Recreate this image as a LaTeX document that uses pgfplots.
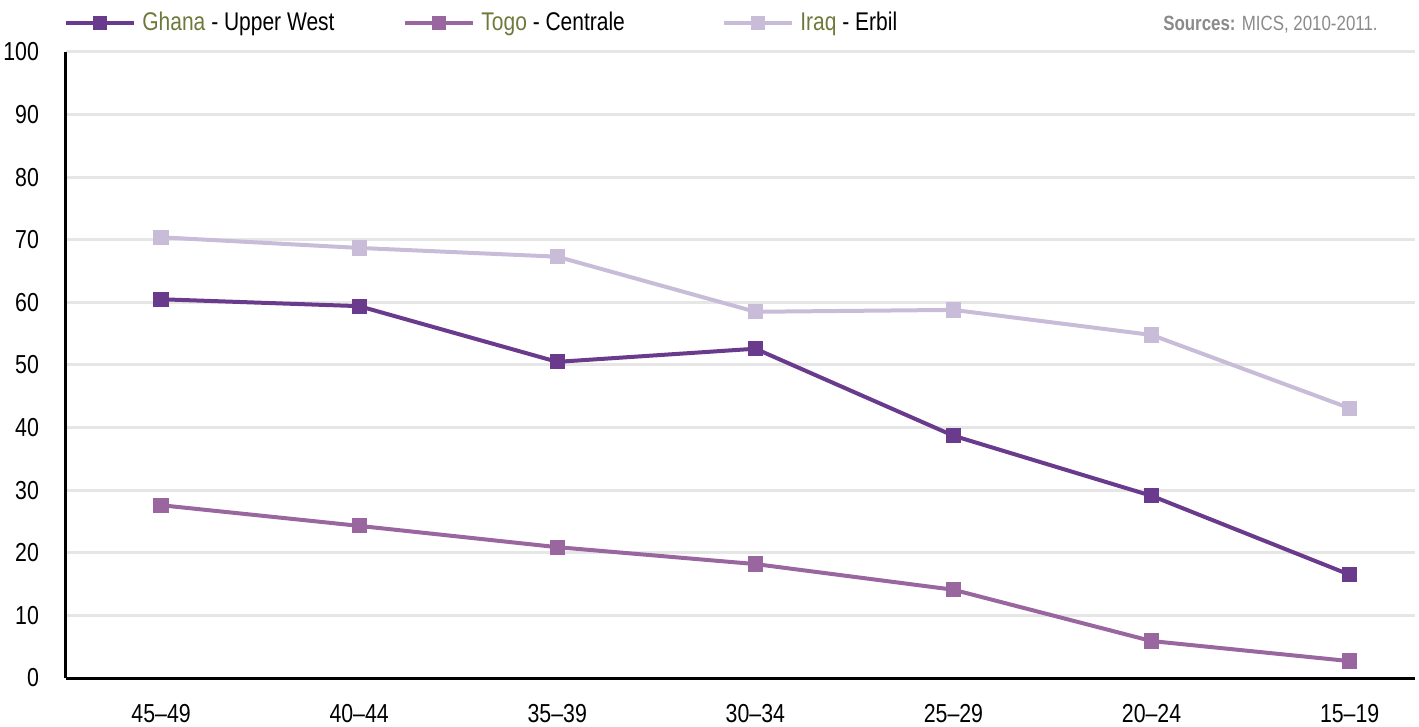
\documentclass[border=0pt]{standalone}
\usepackage{pgfplots}
\pgfplotsset{compat=1.18}
\usepackage{fontspec}
\setmainfont{Liberation Sans}[FakeStretch=0.82]
\definecolor{ghana}{HTML}{6A3A8C}
\definecolor{togo}{HTML}{9A66A0}
\definecolor{iraq}{HTML}{C9BCD9}
\definecolor{cname}{HTML}{6E7A3C}
\definecolor{gridc}{HTML}{E6E6E6}
\definecolor{srcc}{HTML}{8A8A8A}
\pgfplotstableread{
x ghana togo iraq
0 60.5 27.6 70.4
1 59.4 24.3 68.7
2 50.5 20.9 67.3
3 52.6 18.2 58.5
4 38.7 14.1 58.8
5 29.1 5.9 54.8
6 16.5 2.7 43.1
}\datatab
\begin{document}
\begin{tikzpicture}
\begin{axis}[
  name=main,
  scale only axis,
  width=674.5pt, height=313pt,
  xmin=-0.48, xmax=6.33,
  ymin=0, ymax=100,
  ytick={0,10,...,100},
  xtick={0,...,6},
  xticklabels={45--49,40--44,35--39,30--34,25--29,20--24,15--19},
  axis x line=bottom, axis y line=left,
  axis line style={line width=1.5pt, black, -},
  x axis line style={-}, y axis line style={-},
  major tick length=0pt,
  ymajorgrids, grid style={gridc, line width=1.5pt},
  /pgf/number format/assume math mode=true,
  tick label style={font=\fontsize{13}{15}\selectfont, black},
  yticklabel style={xshift=-10pt},
  xticklabel style={yshift=-9.5pt},
  clip=false,
  legend columns=3,
  legend style={at={(0,1)}, anchor=south west, xshift=-1pt, yshift=7pt, draw=none, fill=none,
    font=\fontsize{12.8}{15}\selectfont, column sep=0pt, inner sep=0pt,
    nodes={inner sep=2pt}},
  legend cell align=left,
  legend image code/.code={
    \draw[mark repeat=2,mark phase=2,#1, mark size=2.5pt] plot coordinates {(0pt,0pt) (17pt,0pt) (34pt,0pt)};
  },
  every axis plot/.append style={line width=2pt, mark=square*, mark size=2.8pt, mark options={solid}},
]
\addplot[ghana, mark options={fill=ghana, draw=ghana}] table[x=x,y=ghana]{\datatab};
\addlegendentry{\hspace{1pt}\makebox[128.5pt][l]{\textcolor{cname}{Ghana} - Upper West}}
\addplot[togo, mark options={fill=togo, draw=togo}] table[x=x,y=togo]{\datatab};
\addlegendentry{\hspace{1pt}\makebox[118.5pt][l]{\textcolor{cname}{Togo} - Centrale}}
\addplot[iraq, mark options={fill=iraq, draw=iraq}] table[x=x,y=iraq]{\datatab};
\addlegendentry{\hspace{1pt}\textcolor{cname}{Iraq} - Erbil}
\node[anchor=base east, font=\fontsize{10.3}{12}\selectfont, text=srcc, inner sep=0pt] at (rel axis cs:0.9726,1.035) {\textbf{Sources:} MICS, 2010-2011.};
\end{axis}
\pgfresetboundingbox
\path[use as bounding box] ([shift={(-33pt,-24pt)}]main.south west) rectangle ([shift={(2pt,26pt)}]main.north east);
\end{tikzpicture}
\end{document}
